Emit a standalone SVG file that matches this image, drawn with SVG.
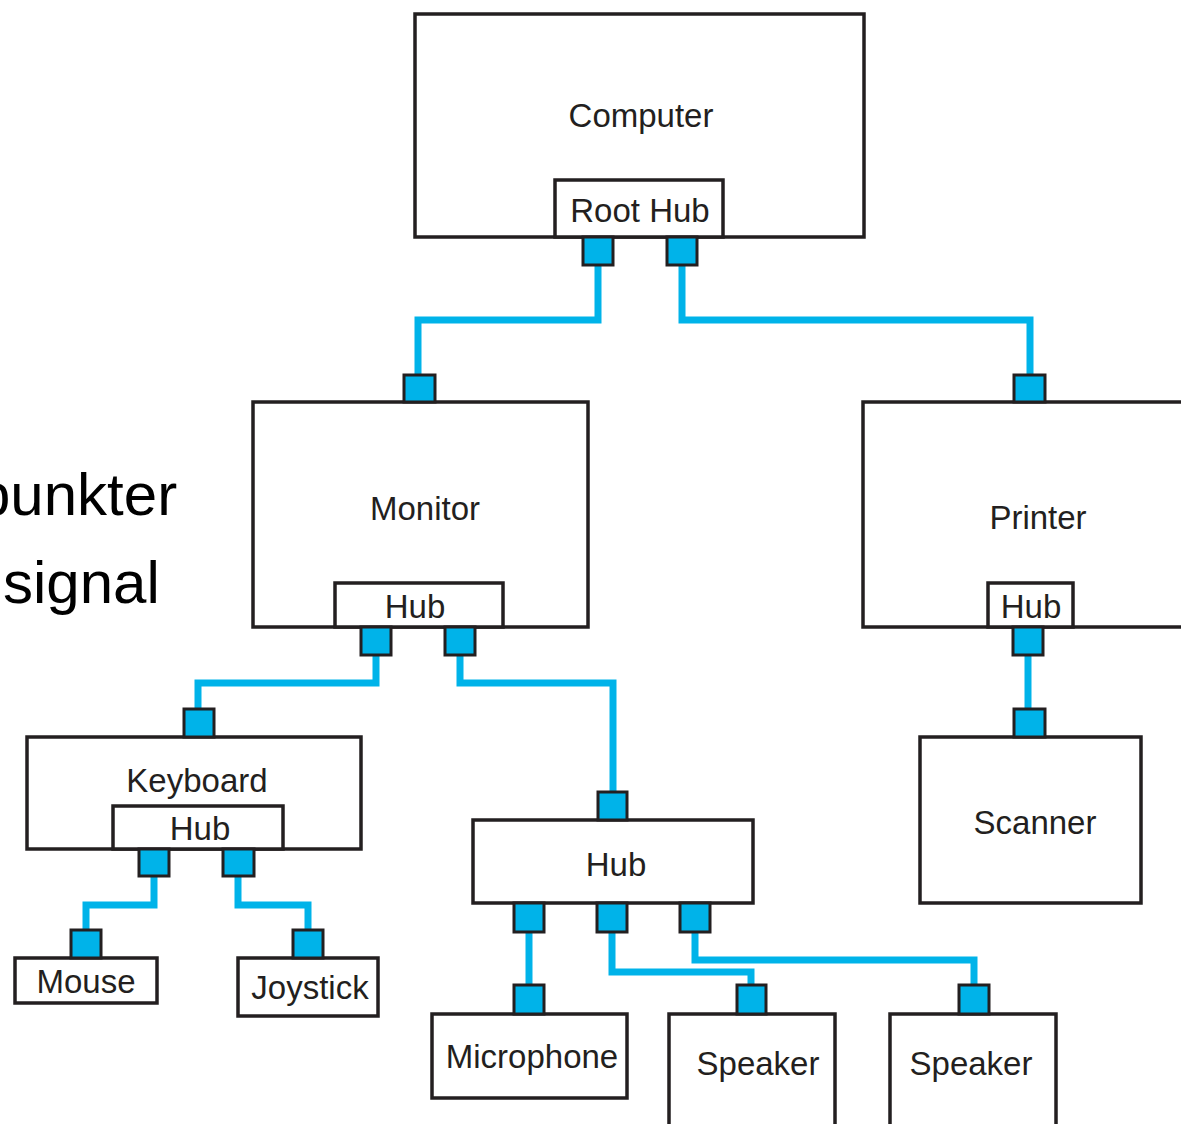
<svg xmlns="http://www.w3.org/2000/svg" width="1181" height="1124" viewBox="0 0 1181 1124">
<style>
.box{fill:#fff;stroke:#231f20;stroke-width:3.5}
.port{fill:#00b3e9;stroke:#231f20;stroke-width:3}
.wire{fill:none;stroke:#00b3e9;stroke-width:7;stroke-linejoin:miter}
.lbl{font-family:"Liberation Sans",Arial,sans-serif;font-size:33px;fill:#231f20;text-anchor:middle}
.side{font-family:"Liberation Sans",Arial,sans-serif;font-size:60px;fill:#000}
</style>
<rect width="1181" height="1124" fill="#fff"/>
<text class="side" x="-23" y="515">punkter</text>
<text class="side" x="3" y="603">signal</text>
<g id="connectors">
<path class="wire" d="M598,266 V320 H418 V375"/>
<path class="wire" d="M682,266 V320 H1030 V375"/>
<path class="wire" d="M376,656 V683 H198 V708"/>
<path class="wire" d="M460,656 V683 H613 V792"/>
<path class="wire" d="M154,876 V905 H86 V930"/>
<path class="wire" d="M238,876 V905 H308 V930"/>
<path class="wire" d="M529,932 V985"/>
<path class="wire" d="M612,932 V972 H751 V985"/>
<path class="wire" d="M695,932 V960 H974 V985"/>
<path class="wire" d="M1028,655 V709"/>
</g>
<g id="computer">
<rect class="box" x="415" y="14" width="449" height="223"/>
<text class="lbl" x="641" y="127">Computer</text>
<rect class="box" x="555" y="180" width="168" height="57"/>
<text class="lbl" x="640" y="222">Root Hub</text>
<rect class="port" x="583" y="237" width="30" height="28"/>
<rect class="port" x="667" y="237" width="30" height="28"/>
</g>
<g id="monitor">
<rect class="box" x="253" y="402" width="335" height="225"/>
<text class="lbl" x="425" y="520">Monitor</text>
<rect class="box" x="335" y="583" width="168" height="44"/>
<text class="lbl" x="415" y="618">Hub</text>
<rect class="port" x="404" y="375" width="31" height="27"/>
<rect class="port" x="361" y="627" width="30" height="28"/>
<rect class="port" x="445" y="627" width="30" height="28"/>
</g>
<g id="printer">
<rect class="box" x="863" y="402" width="330" height="225"/>
<text class="lbl" x="1038" y="529">Printer</text>
<rect class="box" x="988" y="583" width="85" height="44"/>
<text class="lbl" x="1031" y="618">Hub</text>
<rect class="port" x="1014" y="375" width="31" height="27"/>
<rect class="port" x="1013" y="627" width="30" height="28"/>
</g>
<g id="scanner">
<rect class="box" x="920" y="737" width="221" height="166"/>
<text class="lbl" x="1035" y="834">Scanner</text>
<rect class="port" x="1014" y="709" width="31" height="28"/>
</g>
<g id="keyboard">
<rect class="box" x="27" y="737" width="334" height="112"/>
<text class="lbl" x="197" y="792">Keyboard</text>
<rect class="box" x="113" y="806" width="170" height="43"/>
<text class="lbl" x="200" y="840">Hub</text>
<rect class="port" x="184" y="709" width="30" height="28"/>
<rect class="port" x="139" y="849" width="30" height="27"/>
<rect class="port" x="223" y="849" width="31" height="27"/>
</g>
<g id="mouse">
<rect class="box" x="15" y="958" width="142" height="45"/>
<text class="lbl" x="86" y="993">Mouse</text>
<rect class="port" x="71" y="930" width="30" height="28"/>
</g>
<g id="joystick">
<rect class="box" x="238" y="958" width="140" height="58"/>
<text class="lbl" x="310" y="999">Joystick</text>
<rect class="port" x="293" y="930" width="30" height="28"/>
</g>
<g id="hub">
<rect class="box" x="473" y="820" width="280" height="83"/>
<text class="lbl" x="616" y="876">Hub</text>
<rect class="port" x="598" y="792" width="29" height="28"/>
<rect class="port" x="514" y="903" width="30" height="29"/>
<rect class="port" x="597" y="903" width="30" height="29"/>
<rect class="port" x="680" y="903" width="30" height="29"/>
</g>
<g id="microphone">
<rect class="box" x="432" y="1014" width="195" height="84"/>
<text class="lbl" x="532" y="1068">Microphone</text>
<rect class="port" x="514" y="985" width="30" height="29"/>
</g>
<g id="speaker1">
<rect class="box" x="669" y="1014" width="166" height="120"/>
<text class="lbl" x="758" y="1075">Speaker</text>
<rect class="port" x="737" y="985" width="29" height="29"/>
</g>
<g id="speaker2">
<rect class="box" x="890" y="1014" width="166" height="120"/>
<text class="lbl" x="971" y="1075">Speaker</text>
<rect class="port" x="959" y="985" width="30" height="29"/>
</g>
</svg>
